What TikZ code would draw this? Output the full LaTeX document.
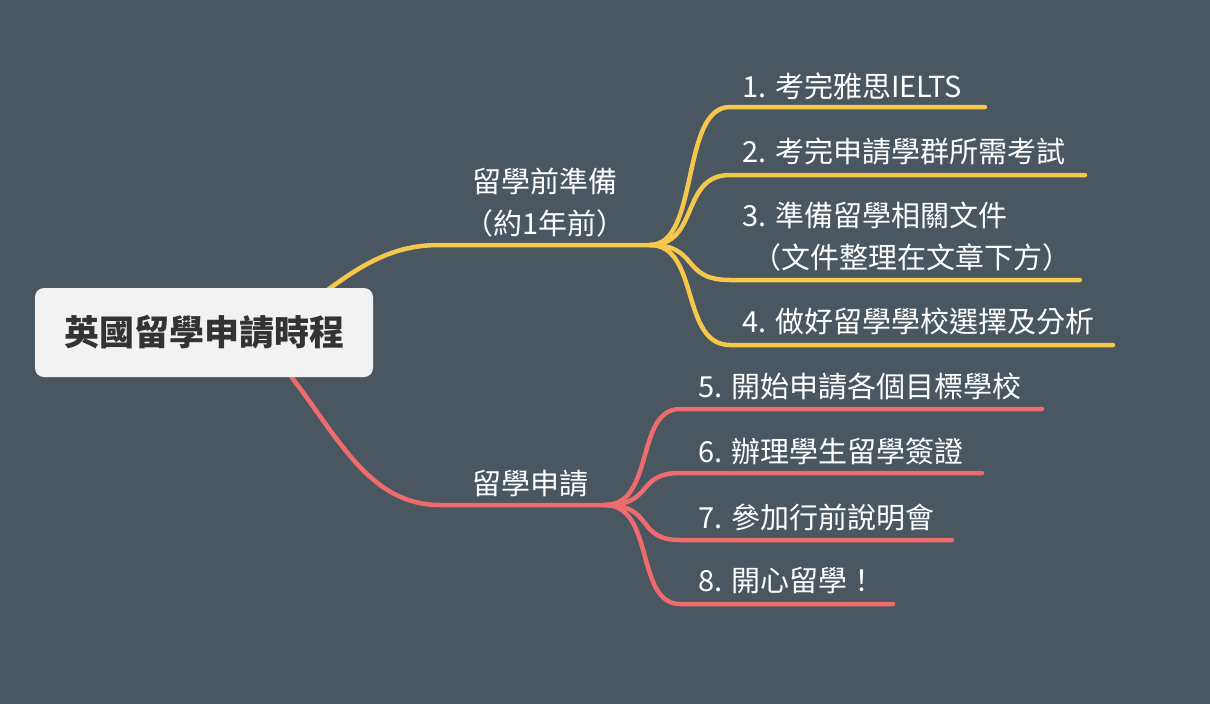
\documentclass[tikz,border=0pt]{standalone}
\usepackage{fontspec}
\newfontfamily\cjk{Noto Sans CJK TC}
\definecolor{bg}{HTML}{4A5761}
\definecolor{yel}{HTML}{F5C84C}
\definecolor{redl}{HTML}{EE6B6E}
\definecolor{rootfill}{HTML}{F2F2F2}
\begin{document}
\begin{tikzpicture}[x=1pt,y=-1pt,
  lbl/.style={text=white,font=\cjk\fontsize{29}{34}\selectfont,anchor=west,inner sep=0pt},
  mid/.style={text=white,font=\cjk\fontsize{29}{42}\selectfont,align=center,inner sep=0pt},
  yl/.style={draw=yel,line width=4.5pt,line cap=round},
  rl/.style={draw=redl,line width=4.5pt,line cap=round}]
\fill[bg] (0,0) rectangle (1210,704);
\useasboundingbox (0,0) rectangle (1210,704);
% branches
\coordinate (ys) at (325,292); \coordinate (ya) at (440,245); \coordinate (yb) at (650,245);
\coordinate (rs) at (290,375); \coordinate (ra) at (440,505); \coordinate (rb) at (605,505);
\draw[yl] (ys) .. controls (370,258) and (400,245) .. (ya) -- (yb);
\draw[rl] (rs) .. controls (340,440) and (370,505) .. (ra) -- (rb);
\node[draw=none,fill=rootfill,rounded corners=9pt,minimum width=338pt,minimum height=89pt,
  font=\cjk\bfseries\fontsize{35}{40}\selectfont,text=black!80] (root) at (204,332.5) {英國留學申請時程};
\node[mid] (prep) at (545,203) {留學前準備\\（約1年前）};
\node[mid] (appl) at (530,484) {留學申請};
% yellow children
\foreach \n/\y/\xe in {1/107/985,2/175/1085,3/280/1080,4/345/1113}{
  \coordinate (y\n a) at (730,\y); \coordinate (y\n b) at (\xe,\y);
  \draw[yl] (yb) .. controls (700,245) and (680,\y) .. (y\n a) -- (y\n b);
}
\node[lbl] (t1) at (742,86) {1. 考完雅思IELTS};
\node[lbl] (t2) at (742,152) {2. 考完申請學群所需考試};
\node[lbl] (t3) at (742,215) {3. 準備留學相關文件};
\node[lbl] (t3b) at (752,257) {（文件整理在文章下方）};
\node[lbl] (t4) at (742,322) {4. 做好留學學校選擇及分析};
% red children
\foreach \n/\y/\xe in {5/409/1042,6/473/982,7/540/952,8/604/893}{
  \coordinate (r\n a) at (680,\y); \coordinate (r\n b) at (\xe,\y);
  \draw[rl] (rb) .. controls (655,505) and (635,\y) .. (r\n a) -- (r\n b);
}
\node[lbl] (t5) at (698,387) {5. 開始申請各個目標學校};
\node[lbl] (t6) at (698,451) {6. 辦理學生留學簽證};
\node[lbl] (t7) at (698,517) {7. 參加行前說明會};
\node[lbl] (t8) at (698,581) {8. 開心留學！};
\end{tikzpicture}
\end{document}
